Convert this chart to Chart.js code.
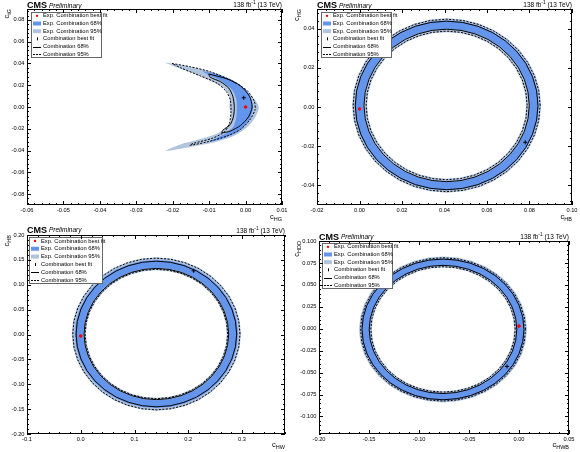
<!DOCTYPE html>
<html>
<head>
<meta charset="utf-8">
<script src="https://cdn.jsdelivr.net/npm/chart.js@4.4.1/dist/chart.umd.min.js"></script>
<style>
  html, body { margin: 0; padding: 0; background: #fff; }
  #grid { display: grid; grid-template-columns: 290px 290px; grid-template-rows: 226px 226px; width: 580px; height: 452px; }
  canvas { display: block; width: 290px; height: 226px; }
</style>
</head>
<body>
<div id="grid">
  <canvas id="c1" width="290" height="226"></canvas>
  <canvas id="c2" width="290" height="226"></canvas>
  <canvas id="c3" width="290" height="226"></canvas>
  <canvas id="c4" width="290" height="226"></canvas>
</div>
<script>
// ---- data ----
const LEGEND_LABELS = ['Exp. Combination best fit', 'Exp. Combination 68%', 'Exp. Combination 95%',
                       'Combination best fit', 'Combination 68%', 'Combination 95%'];

// panel 1: crescent shaped contours
const P1_X_RANGE = [-0.06, 0.01];
const P1_Y_RANGE = [-0.09, 0.09];
const P1_X_TICKS = [-0.06, -0.05, -0.04, -0.03, -0.02, -0.01, 0.00, 0.01];
const P1_Y_TICKS = [-0.08, -0.06, -0.04, -0.02, 0.00, 0.02, 0.04, 0.06, 0.08];
const P1_EXP95_X = [-0.0222, -0.0161, -0.0106, -0.0051, -0.0005, 0.0022, 0.0036, 0.0027, 0.0002, -0.0033, -0.0088, -0.0152, -0.0218,
                    -0.0179, -0.0124, -0.0078, -0.0051, -0.0040, -0.0044, -0.0044, -0.0056, -0.0088, -0.0133, -0.0188];
const P1_EXP95_Y = [0.0409, 0.0376, 0.0333, 0.0264, 0.0173, 0.0082, 0.0000, -0.0091, -0.0191, -0.0267, -0.0327, -0.0367, -0.0403,
                    -0.0345, -0.0295, -0.0243, -0.0186, -0.0100, 0.0000, 0.0097, 0.0164, 0.0228, 0.0295, 0.0362];
const P1_EXP68_X = [-0.0120, -0.0069, -0.0024, 0.0008, 0.0020, 0.0011, -0.0014, -0.0051, -0.0099,
                    -0.0088, -0.0051, -0.0033, -0.0025, -0.0025, -0.0037, -0.0064, -0.0101];
const P1_EXP68_Y = [0.0330, 0.0294, 0.0224, 0.0127, 0.0000, -0.0115, -0.0212, -0.0276, -0.0321,
                    -0.0297, -0.0236, -0.0176, -0.0085, 0.0067, 0.0158, 0.0233, 0.0294];
const P1_COMB68_X = [-0.0101, -0.0051, -0.0014, 0.0011, 0.0018, 0.0008, -0.0014, -0.0042, -0.0065,
                     -0.0062, -0.0042, -0.0033, -0.0031, -0.0035, -0.0046, -0.0069, -0.0097];
const P1_COMB68_Y = [0.0303, 0.0258, 0.0194, 0.0097, 0.0000, -0.0091, -0.0170, -0.0221, -0.0236,
                     -0.0212, -0.0161, -0.0085, 0.0006, 0.0097, 0.0173, 0.0233, 0.0273];
const P1_COMB95_X = [-0.0202, -0.0152, -0.0097, -0.0042, 0.0004, 0.0024, 0.0026, 0.0011, -0.0014, -0.0051, -0.0106, -0.0153,
                     -0.0142, -0.0092, -0.0058, -0.0044, -0.0040, -0.0042, -0.0053, -0.0078, -0.0124, -0.0175];
const P1_COMB95_Y = [0.0400, 0.0370, 0.0324, 0.0248, 0.0152, 0.0052, -0.0024, -0.0121, -0.0206, -0.0267, -0.0321, -0.0352,
                     -0.0333, -0.0288, -0.0228, -0.0145, -0.0039, 0.0067, 0.0142, 0.0218, 0.0285, 0.0355];
const P1_EXP_BEST = [0.0, 0.0];
const P1_COMB_BEST = [-0.0005, 0.0085];

// rings: centre, y/x ratio, radii [outer, inner] per contour
const ANGLES = [0, 10, 20, 30, 40, 50, 60, 70, 80, 90, 100, 110, 120, 130, 140, 150, 160, 170,
                180, 190, 200, 210, 220, 230, 240, 250, 260, 270, 280, 290, 300, 310, 320, 330, 340, 350];

const P2_X_RANGE = [-0.02, 0.10];
const P2_Y_RANGE = [-0.05, 0.05];
const P2_X_TICKS = [-0.02, 0.00, 0.02, 0.04, 0.06, 0.08, 0.10];
const P2_Y_TICKS = [-0.04, -0.02, 0.00, 0.02, 0.04];
const P2_CENTER = [0.041, 0.0008];
const P2_RATIO = 1.0;
const P2_EXP95 = [0.0445, 0.0374];
const P2_EXP68 = [0.0433, 0.0391];
const P2_COMB68 = [0.0430, 0.0389];
const P2_COMB95 = [0.0440, 0.0379];
const P2_EXP_BEST = [0.0, -0.001];
const P2_COMB_BEST = [0.078, -0.018];

const P3_X_RANGE = [-0.1, 0.38];
const P3_Y_RANGE = [-0.2, 0.2];
const P3_X_TICKS = [-0.1, 0.0, 0.1, 0.2, 0.3];
const P3_Y_TICKS = [-0.20, -0.15, -0.10, -0.05, 0.00, 0.05, 0.10, 0.15, 0.20];
const P3_CENTER = [0.1407, 0.001];
const P3_RATIO = 0.98;
const P3_EXP95 = [0.1574, 0.1309];
const P3_EXP68 = [0.1519, 0.1358];
const P3_COMB68 = [0.1494, 0.1346];
const P3_COMB95 = [0.1556, 0.1327];
const P3_EXP_BEST = [0.0, -0.003];
const P3_COMB_BEST = [0.21, 0.128];

const P4_X_RANGE = [-0.20, 0.05];
const P4_Y_RANGE = [-0.12, 0.10];
const P4_X_TICKS = [-0.20, -0.15, -0.10, -0.05, 0.00, 0.05];
const P4_Y_TICKS = [-0.100, -0.075, -0.050, -0.025, 0.000, 0.025, 0.050, 0.075, 0.100];
const P4_CENTER = [-0.076, -0.0008];
const P4_RATIO = 0.99;
const P4_EXP95 = [0.0840, 0.0712];
const P4_EXP68 = [0.0818, 0.0735];
const P4_COMB68 = [0.0810, 0.0738];
const P4_COMB95 = [0.0825, 0.0722];
const P4_EXP_BEST = [0.0, 0.003];
const P4_COMB_BEST = [-0.012, -0.043];

// ---- styles ----
const BLUE68 = '#6495ed';
const BLUE95 = '#b0c4de';
const FONT = '"Liberation Sans", Arial, sans-serif';

Chart.defaults.animation = false;
Chart.defaults.font.family = FONT;

function loop(xs, ys) {
  const pts = xs.map((x, i) => ({x, y: ys[i]}));
  pts.push(pts[0]);
  return pts;
}

function ring(center, r, ratio) {
  const pts = ANGLES.map(a => ({
    x: center[0] + r * Math.cos(a * Math.PI / 180),
    y: center[1] + r * ratio * Math.sin(a * Math.PI / 180)
  }));
  pts.push(pts[0]);
  return pts;
}

const fillSet = (data, color, order, tension) => ({
  data, showLine: true, pointRadius: 0, borderWidth: 0, borderColor: 'rgba(0,0,0,0)',
  backgroundColor: color, fill: 'shape', order, tension
});
const lineSet = (data, dash, order, tension) => ({
  data, showLine: true, pointRadius: 0, borderWidth: 1, borderColor: '#000',
  borderDash: dash, fill: false, order, tension
});
const pointSet = (p, color, style, r) => ({
  data: [{x: p[0], y: p[1]}], showLine: false, pointRadius: r, pointStyle: style,
  backgroundColor: color, borderColor: color, borderWidth: 1, order: 0
});

function ringSets(center, ratio, exp95, exp68, comb68, comb95, expBest, combBest) {
  return [
    fillSet(ring(center, exp95[0], ratio), BLUE95, 10, 0),
    fillSet(ring(center, exp68[0], ratio), BLUE68, 9, 0),
    fillSet(ring(center, exp68[1], ratio), BLUE95, 8, 0),
    fillSet(ring(center, exp95[1], ratio), '#ffffff', 7, 0),
    lineSet(ring(center, comb95[0], ratio), [2, 1.5], 5, 0),
    lineSet(ring(center, comb95[1], ratio), [2, 1.5], 5, 0),
    lineSet(ring(center, comb68[0], ratio), [], 4, 0),
    lineSet(ring(center, comb68[1], ratio), [], 4, 0),
    pointSet(combBest, '#000', 'cross', 2),
    pointSet(expBest, '#ff0000', 'circle', 1.3)
  ];
}

const P1_SETS = [
  fillSet(loop(P1_EXP95_X, P1_EXP95_Y), BLUE95, 10, 0.25),
  fillSet(loop(P1_EXP68_X, P1_EXP68_Y), BLUE68, 9, 0.25),
  lineSet(loop(P1_COMB95_X, P1_COMB95_Y), [2, 1.5], 5, 0.25),
  lineSet(loop(P1_COMB68_X, P1_COMB68_Y), [], 4, 0.25),
  pointSet(P1_COMB_BEST, '#000', 'cross', 2),
  pointSet(P1_EXP_BEST, '#ff0000', 'circle', 1.3)
];

// ---- text helpers ----
function drawSub(ctx, base, sub, x, y, alignRight) {
  ctx.font = '7.5px ' + FONT;
  const wb = ctx.measureText(base).width;
  ctx.font = '5.5px ' + FONT;
  const ws = ctx.measureText(sub).width;
  const x0 = alignRight ? x - wb - ws : x;
  ctx.textAlign = 'left';
  ctx.textBaseline = 'alphabetic';
  ctx.fillStyle = '#000';
  ctx.font = '7.5px ' + FONT;
  ctx.fillText(base, x0, y);
  ctx.font = '5.5px ' + FONT;
  ctx.fillText(sub, x0 + wb, y + 1.8);
}

function drawHeader(ctx, left, right, cmsY, lumiY) {
  ctx.fillStyle = '#000';
  ctx.textAlign = 'left';
  ctx.textBaseline = 'alphabetic';
  ctx.font = 'bold 9px ' + FONT;
  ctx.fillText('CMS', left, cmsY);
  const w = ctx.measureText('CMS').width;
  ctx.font = 'italic 6.5px ' + FONT;
  ctx.fillText('Preliminary', left + w + 2, cmsY - 0.5);
  // 138 fb^-1 (13 TeV), right aligned
  ctx.font = '6.5px ' + FONT;
  const a = '138 fb', c = ' (13 TeV)';
  const wa = ctx.measureText(a).width, wc = ctx.measureText(c).width;
  ctx.font = '4.8px ' + FONT;
  const wsup = ctx.measureText('-1').width;
  const x = right - wa - wsup - wc;
  ctx.font = '6.5px ' + FONT;
  ctx.fillText(a, x, lumiY);
  ctx.font = '4.8px ' + FONT;
  ctx.fillText('-1', x + wa, lumiY - 2.8);
  ctx.font = '6.5px ' + FONT;
  ctx.fillText(c, x + wa + wsup, lumiY);
}

function drawLegend(ctx, box) {
  const [x0, y0, x1, y1] = box;
  ctx.fillStyle = '#fff';
  ctx.fillRect(x0, y0, x1 - x0, y1 - y0);
  ctx.strokeStyle = '#666';
  ctx.lineWidth = 1;
  ctx.setLineDash([]);
  ctx.strokeRect(x0 + 0.5, y0 + 0.5, x1 - x0 - 1, y1 - y0 - 1);
  const rowH = (y1 - y0) / 6;
  const sx = x0 + 2, sw = 8, mx = x0 + 6;
  LEGEND_LABELS.forEach((t, i) => {
    const cy = y0 + (i + 0.5) * rowH;
    ctx.setLineDash([]);
    if (i === 0) {
      ctx.fillStyle = '#ff0000';
      ctx.beginPath(); ctx.arc(mx, cy, 1.2, 0, Math.PI * 2); ctx.fill();
    } else if (i === 1 || i === 2) {
      ctx.fillStyle = i === 1 ? BLUE68 : BLUE95;
      ctx.fillRect(sx, cy - 2, sw, 4);
    } else if (i === 3) {
      ctx.strokeStyle = '#000';
      ctx.beginPath();
      ctx.moveTo(mx + 0.5, cy - 1.5); ctx.lineTo(mx + 0.5, cy + 1.5);
      ctx.stroke();
    } else {
      ctx.strokeStyle = '#000';
      if (i === 5) ctx.setLineDash([2, 1]);
      ctx.beginPath();
      ctx.moveTo(sx, Math.round(cy) + 0.5); ctx.lineTo(sx + sw, Math.round(cy) + 0.5);
      ctx.stroke();
    }
    ctx.fillStyle = '#000';
    ctx.font = '5.8px ' + FONT;
    ctx.textAlign = 'left';
    ctx.textBaseline = 'middle';
    ctx.fillText(t, x0 + 12, cy);
  });
  ctx.setLineDash([]);
}

function axisTicks(ctx, scale, majors, horizontal, area) {
  const minor = (majors[1] - majors[0]) / 5;
  const first = Math.ceil((scale.min - 1e-9) / minor);
  const last = Math.floor((scale.max + 1e-9) / minor);
  ctx.beginPath();
  for (let k = first; k <= last; k++) {
    const v = k * minor;
    const isMajor = majors.some(m => Math.abs(m - v) < minor * 0.01);
    const len = isMajor ? 4 : 2;
    const p = Math.round(scale.getPixelForValue(v)) + 0.5;
    if (horizontal) {
      ctx.moveTo(p, area.bottom); ctx.lineTo(p, area.bottom - len);
      ctx.moveTo(p, area.top); ctx.lineTo(p, area.top + len);
    } else {
      ctx.moveTo(area.left, p); ctx.lineTo(area.left + len, p);
      ctx.moveTo(area.right, p); ctx.lineTo(area.right - len, p);
    }
  }
  ctx.stroke();
}

function rootPlugin(p) {
  return {
    id: 'root_' + p.id,
    afterDraw(chart) {
      const ctx = chart.ctx;
      const area = chart.chartArea;
      ctx.save();
      drawLegend(ctx, p.legend);
      ctx.strokeStyle = '#000';
      ctx.lineWidth = 1;
      ctx.strokeRect(area.left + 0.5, area.top + 0.5, area.right - area.left - 1, area.bottom - area.top - 1);
      axisTicks(ctx, chart.scales.x, p.xTicks, true, area);
      axisTicks(ctx, chart.scales.y, p.yTicks, false, area);
      drawHeader(ctx, area.left, area.right, p.cmsY, p.lumiY);
      drawSub(ctx, 'c', p.xTitle, area.right, p.xTitleY, true);
      ctx.save();
      ctx.translate(p.yTitleX, area.top);
      ctx.rotate(-Math.PI / 2);
      drawSub(ctx, 'c', p.yTitle, 0, 0, true);
      ctx.restore();
      ctx.restore();
    }
  };
}

function makePanel(p) {
  const tickFont = {family: FONT, size: 5.7};
  new Chart(document.getElementById(p.id), {
    type: 'line',
    data: {datasets: p.sets},
    options: {
      responsive: false,
      devicePixelRatio: 1,
      events: [],
      layout: {autoPadding: false, padding: p.pad},
      plugins: {legend: {display: false}, tooltip: {enabled: false}},
      scales: {
        x: {
          type: 'linear', min: p.xRange[0], max: p.xRange[1],
          afterBuildTicks: s => { s.ticks = p.xTicks.map(v => ({value: v})); },
          afterFit: s => { s.height = p.xH; },
          ticks: {callback: v => v.toFixed(p.xDec), font: tickFont, color: '#000', padding: 2,
                  maxRotation: 0, autoSkip: false},
          grid: {display: false, drawTicks: false},
          border: {display: false}
        },
        y: {
          type: 'linear', min: p.yRange[0], max: p.yRange[1],
          afterBuildTicks: s => { s.ticks = p.yTicks.map(v => ({value: v})); },
          afterFit: s => { s.width = p.yW; },
          ticks: {callback: v => v.toFixed(p.yDec), font: tickFont, color: '#000', padding: 2.5,
                  autoSkip: false},
          grid: {display: false, drawTicks: false},
          border: {display: false}
        }
      }
    },
    plugins: [rootPlugin(p)]
  });
}

makePanel({
  id: 'c1', sets: P1_SETS,
  xRange: P1_X_RANGE, yRange: P1_Y_RANGE, xTicks: P1_X_TICKS, yTicks: P1_Y_TICKS, xDec: 2, yDec: 2,
  pad: {left: 0, right: 8, top: 9, bottom: 0}, yW: 27, xH: 21,
  legend: [31, 12, 102, 58], cmsY: 8, lumiY: 7, xTitle: 'HG', yTitle: 'tG', xTitleY: 219, yTitleX: 9
});
makePanel({
  id: 'c2', sets: ringSets(P2_CENTER, P2_RATIO, P2_EXP95, P2_EXP68, P2_COMB68, P2_COMB95, P2_EXP_BEST, P2_COMB_BEST),
  xRange: P2_X_RANGE, yRange: P2_Y_RANGE, xTicks: P2_X_TICKS, yTicks: P2_Y_TICKS, xDec: 2, yDec: 2,
  pad: {left: 0, right: 8, top: 9, bottom: 0}, yW: 27, xH: 21,
  legend: [31, 12, 102, 58], cmsY: 8, lumiY: 7, xTitle: 'HB', yTitle: 'HG', xTitleY: 219, yTitleX: 9
});
makePanel({
  id: 'c3', sets: ringSets(P3_CENTER, P3_RATIO, P3_EXP95, P3_EXP68, P3_COMB68, P3_COMB95, P3_EXP_BEST, P3_COMB_BEST),
  xRange: P3_X_RANGE, yRange: P3_Y_RANGE, xTicks: P3_X_TICKS, yTicks: P3_Y_TICKS, xDec: 1, yDec: 2,
  pad: {left: 0, right: 5, top: 9, bottom: 0}, yW: 27, xH: 18,
  legend: [29, 11, 103, 58], cmsY: 6.5, lumiY: 6.5, xTitle: 'HW', yTitle: 'HB', xTitleY: 221, yTitleX: 9
});
makePanel({
  id: 'c4', sets: ringSets(P4_CENTER, P4_RATIO, P4_EXP95, P4_EXP68, P4_COMB68, P4_COMB95, P4_EXP_BEST, P4_COMB_BEST),
  xRange: P4_X_RANGE, yRange: P4_Y_RANGE, xTicks: P4_X_TICKS, yTicks: P4_Y_TICKS, xDec: 2, yDec: 3,
  pad: {left: 0, right: 11, top: 15, bottom: 0}, yW: 29, xH: 18,
  legend: [32, 17, 103, 63], cmsY: 13.5, lumiY: 12.5, xTitle: 'HWB', yTitle: 'HDD', xTitleY: 221, yTitleX: 9
});
</script>
</body>
</html>
